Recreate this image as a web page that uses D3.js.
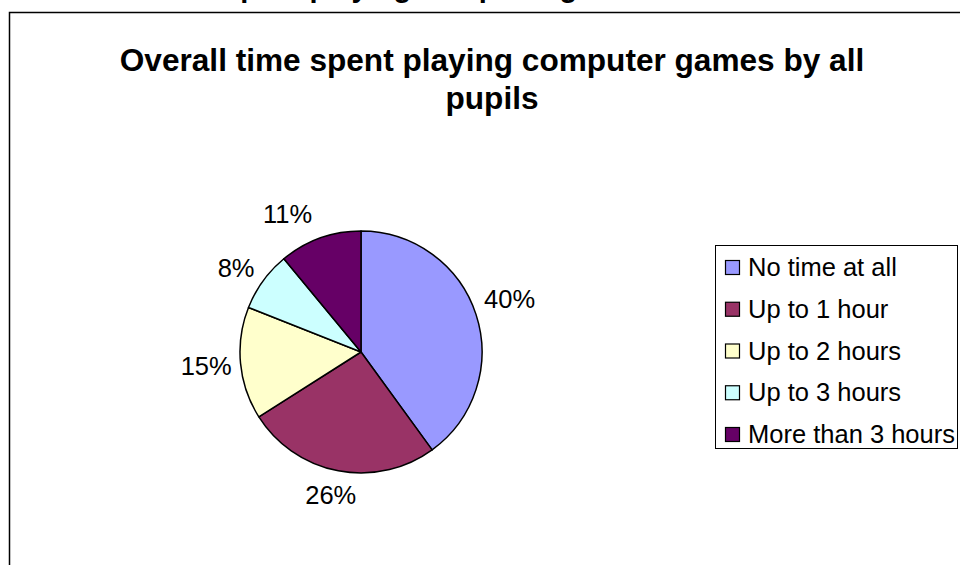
<!DOCTYPE html>
<html>
<head>
<meta charset="utf-8">
<script src="https://cdn.jsdelivr.net/npm/d3@7"></script>
<style>
  html, body { margin: 0; padding: 0; background: #fff; }
  svg { display: block; font-family: "Liberation Sans", Arial, sans-serif; }
</style>
</head>
<body>
<svg id="chart" width="960" height="565"></svg>
<script>
// Share of pupils by weekly time spent on computer games
const categories = ["No time at all", "Up to 1 hour", "Up to 2 hours", "Up to 3 hours", "More than 3 hours"];
const shares = [40, 26, 15, 8, 11];
const sliceLabels = ["40%", "26%", "15%", "8%", "11%"];
const colors = ["#9999FF", "#993366", "#FFFFCC", "#CCFFFF", "#660066"];
const titleLines = ["Overall time spent playing computer games by all", "pupils"];
const headerText = "Time spent playing computer games";

const svg = d3.select("#chart");

// Header of the preceding chart, clipped by the top of the page
svg.append("text")
  .attr("x", 149).attr("y", -3)
  .attr("font-size", 29).attr("font-weight", "bold")
  .text(headerText);

// Chart area frame (runs off the right and bottom edges)
svg.append("rect")
  .attr("x", 9.5).attr("y", 12.5)
  .attr("width", 1000).attr("height", 600)
  .attr("fill", "#fff").attr("stroke", "#000").attr("stroke-width", 1.5);

// Title
const title = svg.append("text")
  .attr("text-anchor", "middle")
  .attr("font-size", 31.6).attr("font-weight", "bold");
title.selectAll("tspan").data(titleLines).join("tspan")
  .attr("x", 492)
  .attr("y", (d, i) => 71 + i * 38)
  .text(d => d);

// Pie
const cx = 361, cy = 352, r = 121;
const pie = d3.pie().sort(null).value(d => d);
const arcs = pie(shares);
const arc = d3.arc().innerRadius(0).outerRadius(r);

const g = svg.append("g").attr("transform", `translate(${cx},${cy})`);
g.selectAll("path").data(arcs).join("path")
  .attr("d", arc)
  .attr("fill", (d, i) => colors[i])
  .attr("stroke", "#000")
  .attr("stroke-width", 1.5)
  .attr("stroke-linejoin", "round");

// Percentage labels outside each slice; small per-label nudges keep
// the narrow slices' labels clear of their neighbours
const labelR = r + 15;
const nudge = [[-5, -8], [0, 1], [6, 1], [0, 2], [-19, -1]];
const labels = g.selectAll("text.pct").data(arcs).join("text")
  .attr("class", "pct")
  .attr("font-size", 25.5)
  .attr("fill", "#000")
  .text((d, i) => sliceLabels[i]);

labels.each(function (d, i) {
  const a = (d.startAngle + d.endAngle) / 2;
  const sx = Math.sin(a), sy = -Math.cos(a);
  const w = this.getComputedTextLength();
  const hh = 9;
  const px = sx * labelR + sx * w / 2 + nudge[i][0];
  const py = sy * labelR + sy * hh + nudge[i][1];
  d3.select(this)
    .attr("text-anchor", "middle")
    .attr("x", px)
    .attr("y", py + 8.5);
});

// Legend
const legend = svg.append("g");
legend.append("rect")
  .attr("x", 715.5).attr("y", 245.5)
  .attr("width", 242).attr("height", 203)
  .attr("fill", "#fff").attr("stroke", "#000").attr("stroke-width", 1);

const rowY = d3.scalePoint().domain(categories).range([267, 434]);
const items = legend.selectAll("g.item").data(categories).join("g")
  .attr("class", "item")
  .attr("transform", d => `translate(0,${rowY(d)})`);
items.append("rect")
  .attr("x", 725.5).attr("y", -6.5)
  .attr("width", 14).attr("height", 14)
  .attr("fill", (d, i) => colors[i])
  .attr("stroke", "#000").attr("stroke-width", 1.2);
items.append("text")
  .attr("x", 748).attr("y", 9)
  .attr("font-size", 25.5)
  .text(d => d);
</script>
</body>
</html>
